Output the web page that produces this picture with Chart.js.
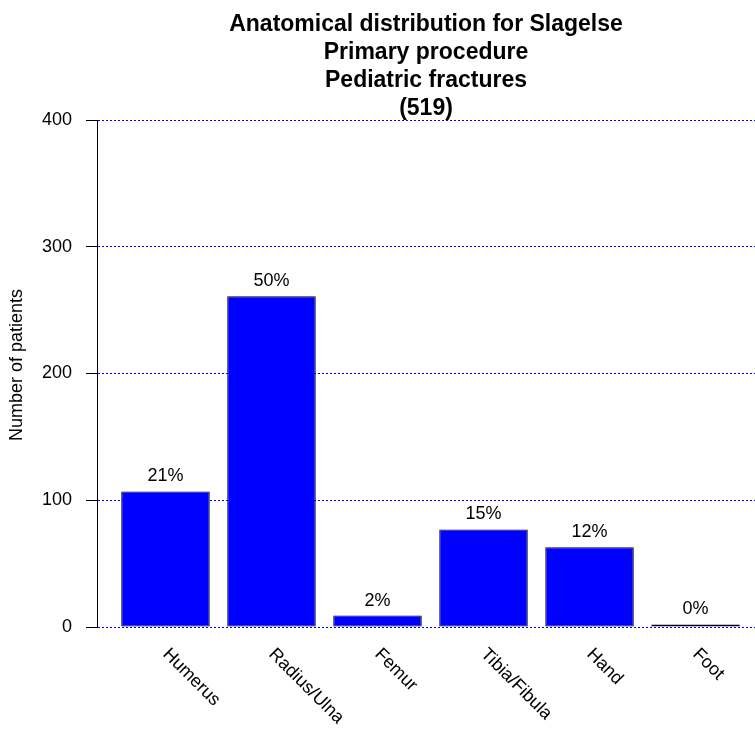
<!DOCTYPE html>
<html>
<head>
<meta charset="utf-8">
<script src="https://cdn.jsdelivr.net/npm/chart.js@4.4.1/dist/chart.umd.min.js"></script>
<style>
html,body{margin:0;padding:0;background:#fff;}
canvas{display:block;}
</style>
</head>
<body>
<canvas id="c" width="755" height="729"></canvas>
<script>
const titleLines = ['Anatomical distribution for Slagelse', 'Primary procedure', 'Pediatric fractures', '(519)'];
const categories = ['Humerus', 'Radius/Ulna', 'Femur', 'Tibia/Fibula', 'Hand', 'Foot'];
const patients = [107, 261, 9, 77, 63, 2];
const percentLabels = ['21%', '50%', '2%', '15%', '12%', '0%'];
const yTicks = [0, 100, 200, 300, 400];
const yTitle = 'Number of patients';

const FONT = '"Liberation Sans", Arial, Helvetica, sans-serif';

const overlay = {
  id: 'overlay',
  afterDatasetsDraw(chart) {
    const ctx = chart.ctx;
    const ca = chart.chartArea;
    const meta = chart.getDatasetMeta(0);
    ctx.save();
    ctx.fillStyle = '#000';
    // title
    ctx.font = 'bold 23px ' + FONT;
    ctx.textAlign = 'center';
    ctx.textBaseline = 'middle';
    const cx = (ca.left + ca.right) / 2;
    titleLines.forEach((t, i) => ctx.fillText(t, cx, 25 + 28 * i));
    // y axis title
    ctx.font = '18px ' + FONT;
    ctx.save();
    ctx.translate(17, 365);
    ctx.rotate(-Math.PI / 2);
    ctx.fillText(yTitle, 0, 0);
    ctx.restore();
    // percentage labels above bars
    ctx.textBaseline = 'alphabetic';
    meta.data.forEach((bar, i) => {
      ctx.fillText(percentLabels[i], bar.x, bar.y - 10);
    });
    // rotated category labels
    ctx.textAlign = 'left';
    meta.data.forEach((bar, i) => {
      ctx.save();
      ctx.translate(bar.x - 3.5, ca.bottom + 28);
      ctx.rotate(Math.PI / 4);
      ctx.fillText(categories[i], 0, 0);
      ctx.restore();
    });
    ctx.restore();
  }
};

new Chart(document.getElementById('c'), {
  type: 'bar',
  data: {
    datasets: [{
      data: patients.map((v, i) => ({ x: i, y: v })),
      backgroundColor: '#0000FF',
      borderColor: '#000000',
      borderWidth: 1,
      borderSkipped: false,
      barPercentage: 0.835,
      categoryPercentage: 1.0
    }]
  },
  options: {
    responsive: false,
    animation: false,
    layout: { padding: { top: 120, bottom: 102, left: 0, right: 0 } },
    plugins: {
      legend: { display: false },
      tooltip: { enabled: false },
      title: { display: false }
    },
    scales: {
      x: {
        type: 'linear',
        min: -0.646,
        max: 5.561,
        offset: false,
        grid: { offset: false },
        afterBuildTicks: s => { s.ticks = categories.map((c, i) => ({ value: i })); },
        display: false
      },
      y: {
        min: 0,
        max: 400,
        afterBuildTicks: s => { s.ticks = yTicks.map(v => ({ value: v })); },
        afterFit: s => { s.width = 97; },
        ticks: {
          color: '#000',
          font: { family: FONT, size: 18 },
          padding: 14
        },
        grid: {
          color: '#0000FF',
          lineWidth: 1,
          tickColor: '#000',
          tickLength: 11,
          drawTicks: true
        },
        border: { display: true, color: '#000', width: 1, dash: [2, 2] },
        title: { display: false }
      }
    }
  },
  plugins: [overlay]
});
</script>
</body>
</html>
